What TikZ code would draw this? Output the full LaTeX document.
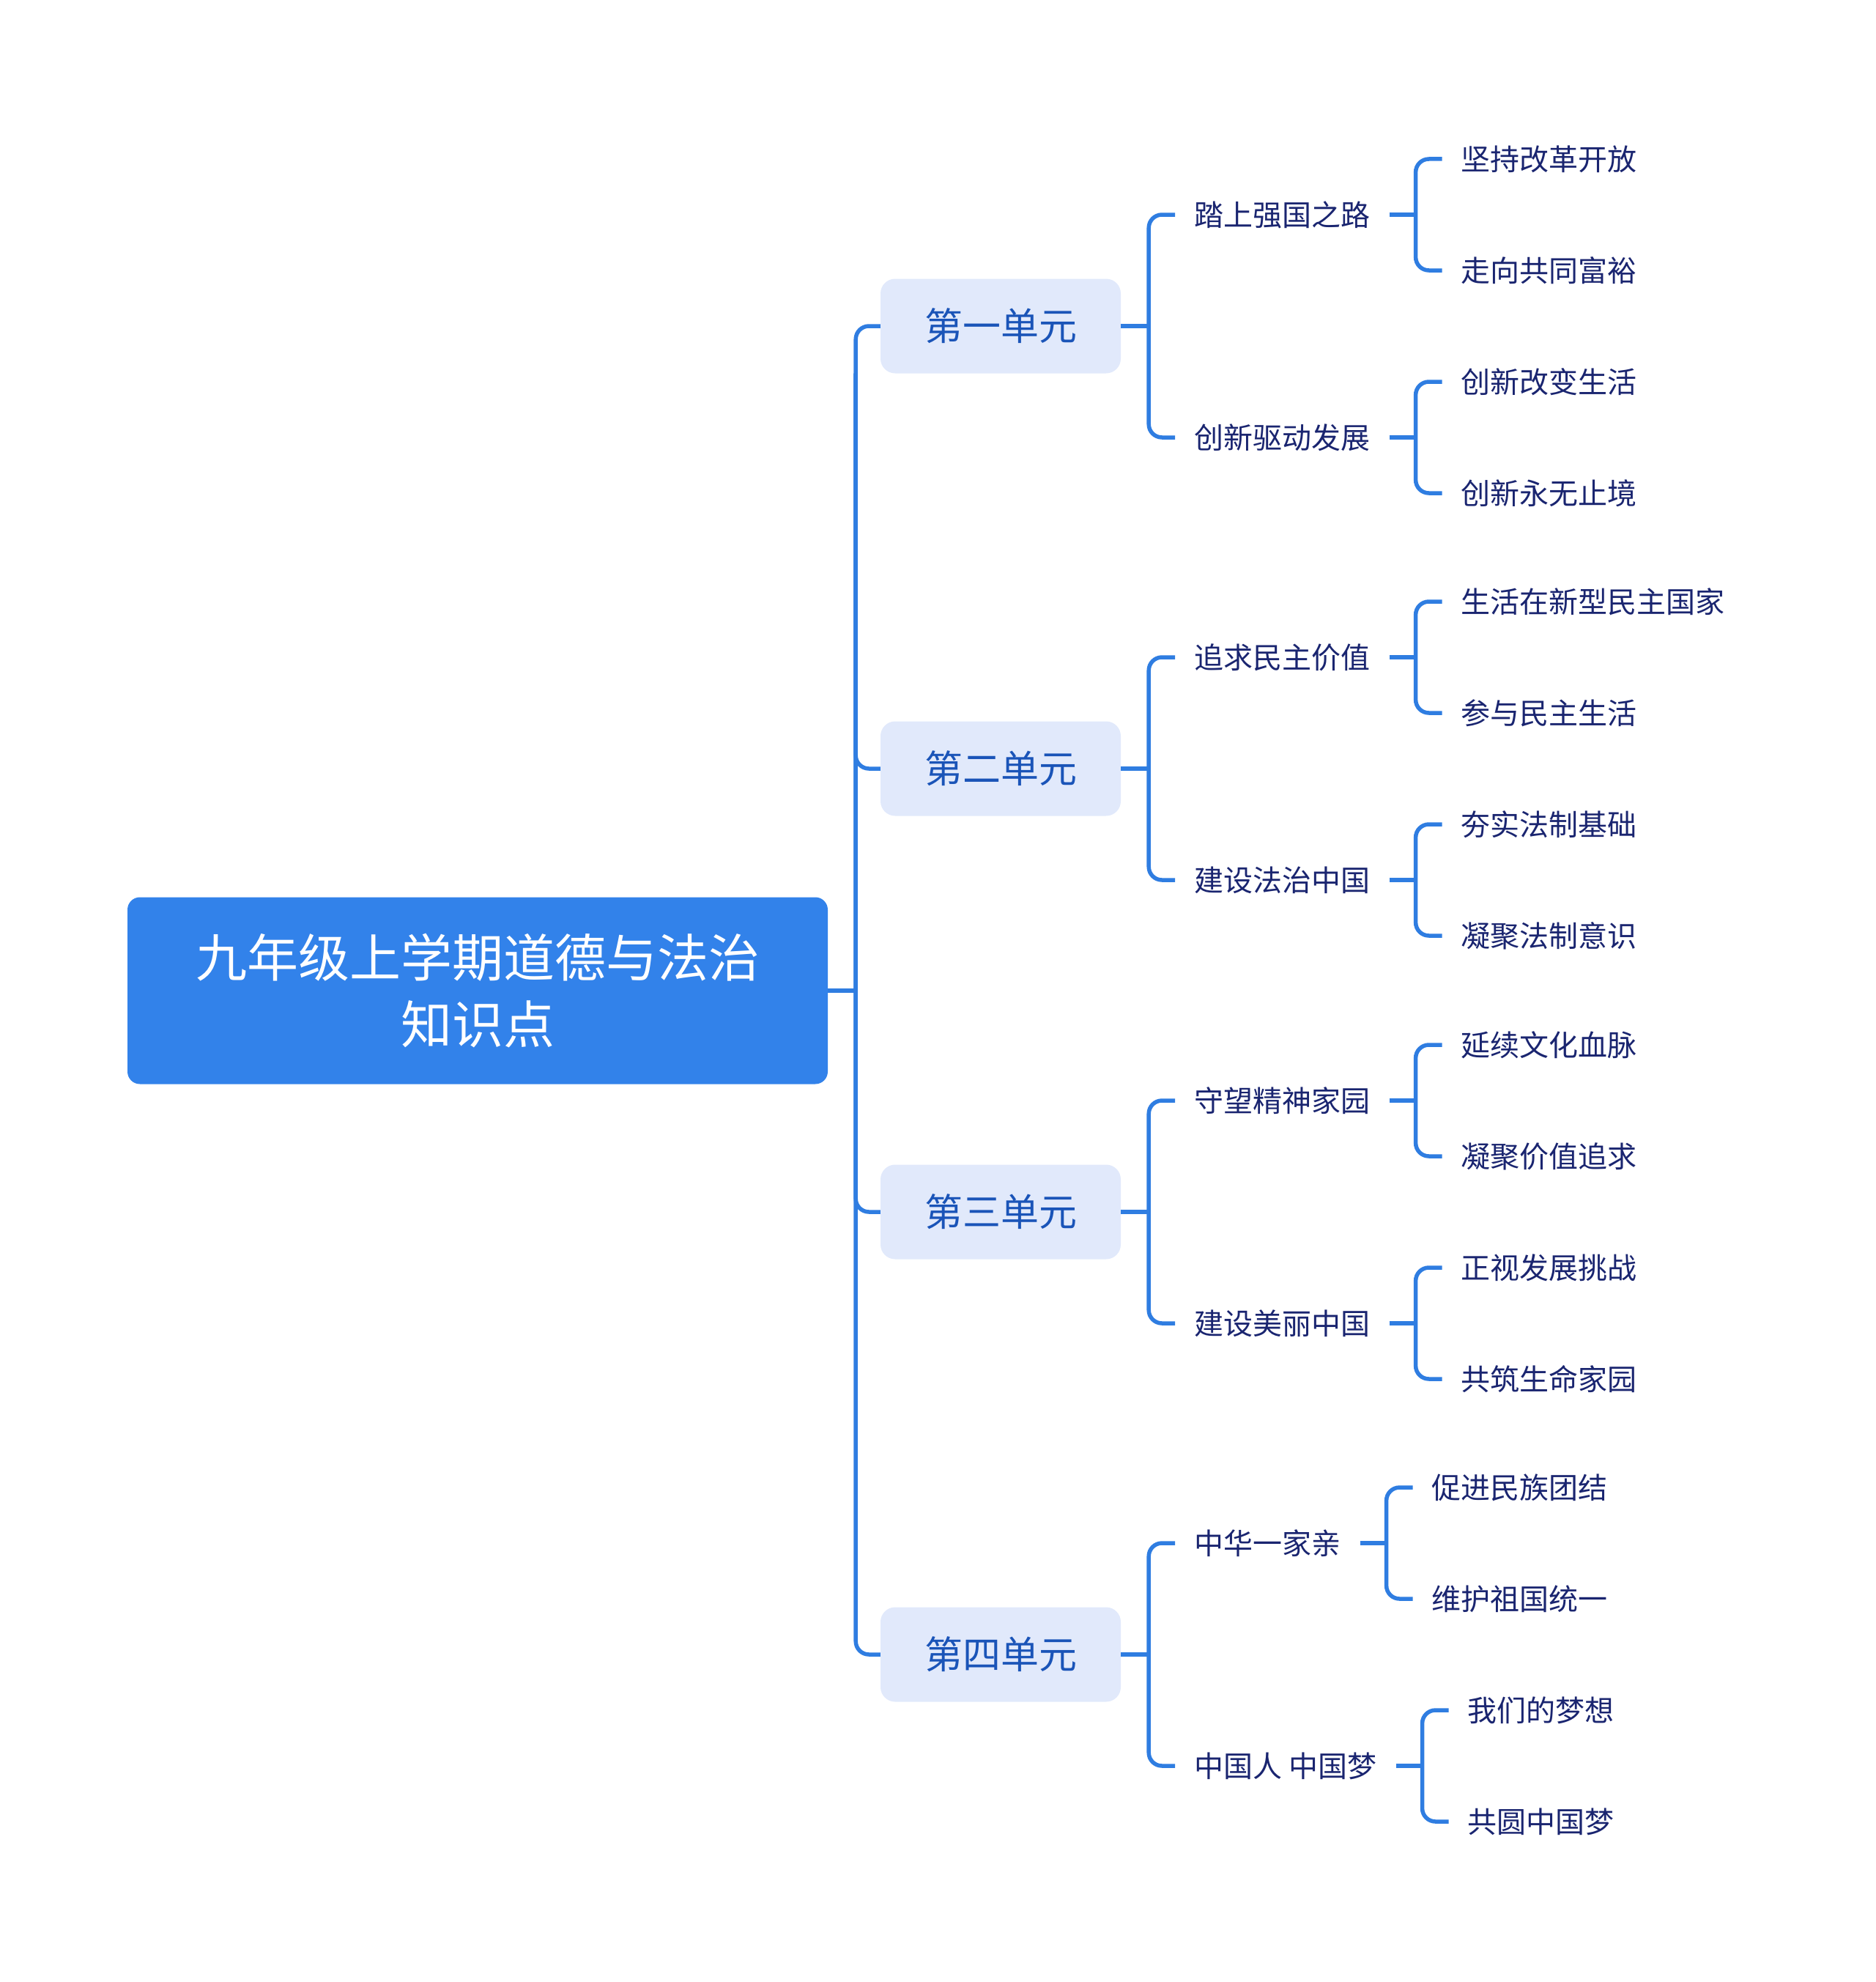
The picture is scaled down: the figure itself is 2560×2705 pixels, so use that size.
\documentclass[tikz,border=0pt]{standalone}
\usepackage{fontspec}
\setmainfont{Noto Sans CJK SC}
\usepackage{xcolor}
\usetikzlibrary{positioning}

\definecolor{linkblue}{HTML}{2F7DE1}
\definecolor{rootblue}{HTML}{3282EA}
\definecolor{unitfill}{HTML}{E1E9FB}
\definecolor{unittext}{HTML}{1A54B8}
\definecolor{navytext}{HTML}{1A2570}

\begin{document}
\begin{tikzpicture}[
  x=1pt, y=1pt,
  link/.style={draw=linkblue, line width=5.5pt, rounded corners=18pt},
  rootbox/.style={fill=rootblue, rounded corners=17pt, minimum width=956pt, minimum height=255pt,
    align=center, text=white, font=\fontsize{70}{91}\selectfont},
  unitbox/.style={fill=unitfill, rounded corners=20pt, minimum width=328pt, minimum height=129pt,
    text=unittext, font=\fontsize{52}{62}\selectfont},
  topic/.style={inner xsep=26pt, inner ysep=4pt, text=navytext, font=\fontsize{40}{48}\selectfont},
  leaf/.style={topic}
]
  \useasboundingbox (0,0) rectangle (2560,-2705);

  % Root
  \node[rootbox] (root) at (652,-1352) {九年级上学期道德与法治\\知识点};

  % Units
  \node[unitbox] (u1) at (1366,-445)  {第一单元};
  \node[unitbox] (u2) at (1366,-1049) {第二单元};
  \node[unitbox] (u3) at (1366,-1654) {第三单元};
  \node[unitbox] (u4) at (1366,-2258) {第四单元};

  % Topics
  \node[topic, right=74pt of u1, yshift=152pt]  (a1) {踏上强国之路};
  \node[topic, right=74pt of u1, yshift=-152pt] (a2) {创新驱动发展};
  \node[topic, right=74pt of u2, yshift=152pt]  (b1) {追求民主价值};
  \node[topic, right=74pt of u2, yshift=-152pt] (b2) {建设法治中国};
  \node[topic, right=74pt of u3, yshift=152pt]  (c1) {守望精神家园};
  \node[topic, right=74pt of u3, yshift=-152pt] (c2) {建设美丽中国};
  \node[topic, right=74pt of u4, yshift=152pt]  (d1) {中华一家亲};
  \node[topic, right=74pt of u4, yshift=-152pt] (d2) {中国人 中国梦};

  % Leaves
  \node[leaf, right=72pt of a1, yshift=76pt]  (a1t) {坚持改革开放};
  \node[leaf, right=72pt of a1, yshift=-76pt] (a1b) {走向共同富裕};
  \node[leaf, right=72pt of a2, yshift=76pt]  (a2t) {创新改变生活};
  \node[leaf, right=72pt of a2, yshift=-76pt] (a2b) {创新永无止境};
  \node[leaf, right=72pt of b1, yshift=76pt]  (b1t) {生活在新型民主国家};
  \node[leaf, right=72pt of b1, yshift=-76pt] (b1b) {参与民主生活};
  \node[leaf, right=72pt of b2, yshift=76pt]  (b2t) {夯实法制基础};
  \node[leaf, right=72pt of b2, yshift=-76pt] (b2b) {凝聚法制意识};
  \node[leaf, right=72pt of c1, yshift=76pt]  (c1t) {延续文化血脉};
  \node[leaf, right=72pt of c1, yshift=-76pt] (c1b) {凝聚价值追求};
  \node[leaf, right=72pt of c2, yshift=76pt]  (c2t) {正视发展挑战};
  \node[leaf, right=72pt of c2, yshift=-76pt] (c2b) {共筑生命家园};
  \node[leaf, right=72pt of d1, yshift=76pt]  (d1t) {促进民族团结};
  \node[leaf, right=72pt of d1, yshift=-76pt] (d1b) {维护祖国统一};
  \node[leaf, right=72pt of d2, yshift=76pt]  (d2t) {我们的梦想};
  \node[leaf, right=72pt of d2, yshift=-76pt] (d2b) {共圆中国梦};

  % Root to units
  \coordinate (j0) at ([xshift=38pt]root.east);
  \draw[link] (root.east) -- (j0);
  \draw[link] (u1.west) -| (j0) |- (u4.west);
  \draw[link] (j0 |- u1.south) |- (u2.west);
  \draw[link] (j0 |- u1.south) |- (u3.west);

  % Units to topics
  \foreach \u/\t in {u1/a, u2/b, u3/c, u4/d} {
    \coordinate (j\t) at ([xshift=38pt]\u.east);
    \draw[link] (\u.east) -- (j\t);
    \draw[link] (\t1.west) -| (j\t) |- (\t2.west);
  }

  % Topics to leaves
  \foreach \t in {a1, a2, b1, b2, c1, c2, d1, d2} {
    \coordinate (k\t) at ([xshift=36pt]\t.east);
    \draw[link] (\t.east) -- (k\t);
    \draw[link] (\t t.west) -| (k\t) |- (\t b.west);
  }
\end{tikzpicture}
\end{document}
